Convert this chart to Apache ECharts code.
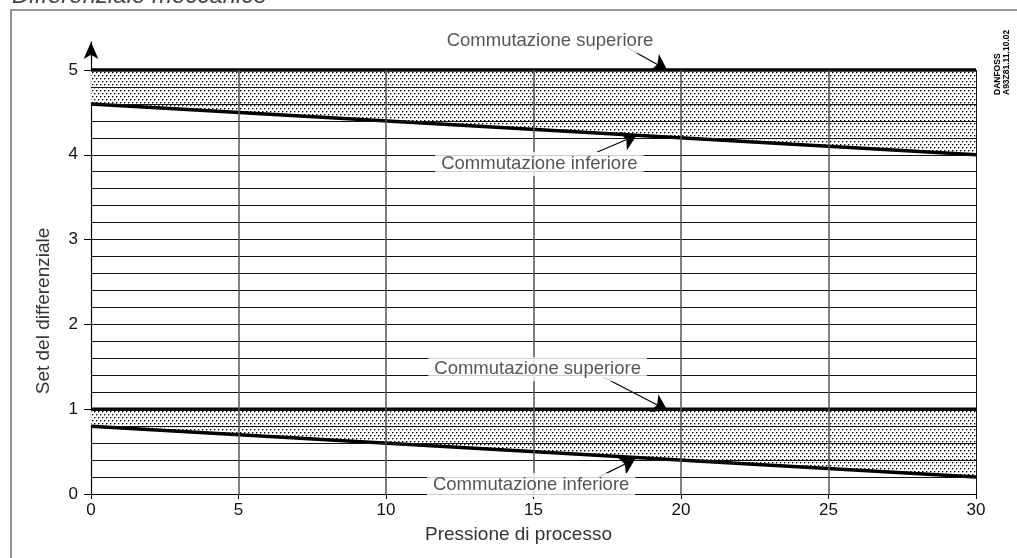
<!DOCTYPE html>
<html><head><meta charset="utf-8">
<script src="https://cdn.jsdelivr.net/npm/echarts@6/dist/echarts.min.js"></script>
<style>html,body{margin:0;padding:0;background:#fff}#c{width:1017px;height:558px}</style>
</head><body><div id="c"></div>
<script>
// ---- data ----
const pressure = [0, 30];                 // Pressione di processo
const upperSwitchHigh = [5, 5];           // Commutazione superiore (banda alta)
const upperSwitchLow = [4.6, 4.0];        // Commutazione inferiore (banda alta)
const lowerSwitchHigh = [1, 1];           // Commutazione superiore (banda bassa)
const lowerSwitchLow = [0.8, 0.2];        // Commutazione inferiore (banda bassa)
const xTicks = [0, 5, 10, 15, 20, 25, 30];
const yTicks = [0, 1, 2, 3, 4, 5];
const hGridValues = [0.2,0.4,0.6,0.8,1.0,1.2,1.4,1.6,1.8,2.0,2.2,2.4,2.6,2.8,3.0,3.2,3.4,3.6,3.8,4.0,4.2,4.4,4.6,4.8,5.0];
const vGridValues = [5, 10, 15, 20, 25, 30];
const annotationTexts = ['Commutazione superiore', 'Commutazione inferiore', 'Commutazione superiore', 'Commutazione inferiore'];
const annotationAt = [[15.56, 5.34], [15.2, 3.89], [15.14, 1.47], [14.92, 0.106]];
const arrowFrom = [[18.2, 5.26], [17.15, 4.03], [17.36, 1.38], [17.15, 0.19]];
const arrowTo = [[19.53, 5.0], [18.5, 4.23], [19.53, 0.99], [18.44, 0.41]];
const xName = 'Pressione di processo';
const yName = 'Set del differenziale';
const titleText = 'Differenziale meccanico';
const codeText = 'DANFOSS\nA93Z81.11.10.02';

// ---- dot pattern ----
const pc = document.createElement('canvas');
pc.width = 4; pc.height = 6;
const pctx = pc.getContext('2d');
pctx.fillStyle = '#fff'; pctx.fillRect(0,0,4,6);
pctx.fillStyle = '#999';
pctx.fillRect(1,0,1,1); pctx.fillRect(0,1,1,1); pctx.fillRect(3,3,1,1); pctx.fillRect(2,4,1,1);
pctx.fillStyle = '#000';
pctx.fillRect(0,0,1,1); pctx.fillRect(2,3,1,1);

const zip = (xs, ys) => xs.map((x, i) => [x, ys[i]]);
const bands = [[upperSwitchHigh, upperSwitchLow], [lowerSwitchHigh, lowerSwitchLow]];

const chart = echarts.init(document.getElementById('c'), null, {renderer: 'canvas'});
const FONT = 'Liberation Sans';

const series = [];
// bands (filled between high and low switching lines)
series.push({type: 'custom', coordinateSystem: 'cartesian2d', silent: true, z: 1,
  data: bands.map((b, i) => [pressure[0], b[0][0], i]),
  renderItem: function (params, api) {
    const b = bands[params.dataIndex];
    const hi = b[0], lo = b[1];
    const pts = [];
    for (let i = 0; i < pressure.length; i++) pts.push(api.coord([pressure[i], hi[i]]));
    for (let i = pressure.length - 1; i >= 0; i--) pts.push(api.coord([pressure[i], lo[i]]));
    return {type: 'polygon', shape: {points: pts}, style: {fill: {image: pc, repeat: 'repeat'}, stroke: null}};
  }});
// grid lines
const gridMark = [];
hGridValues.forEach(v => gridMark.push([{coord: [pressure[0], v], lineStyle: {color: '#111', width: 1, type: 'solid'}}, {coord: [pressure[1], v]}]));
vGridValues.forEach(v => gridMark.push([{coord: [v, 0], lineStyle: {color: v === 30 ? '#111' : '#555', width: v === 30 ? 1 : 1.5, type: 'solid'}}, {coord: [v, 5]}]));
series.push({type: 'line', data: [], silent: true, z: 2,
  markLine: {silent: true, symbol: ['none', 'none'], label: {show: false}, animation: false,
    lineStyle: {type: 'solid'}, data: gridMark}});
// boundary lines
[upperSwitchHigh, upperSwitchLow, lowerSwitchHigh, lowerSwitchLow].forEach(arr => {
  series.push({type: 'line', data: zip(pressure, arr), symbol: 'none', silent: true, z: 3,
    lineStyle: {color: '#000', width: 3.5}});
});
// arrows
series.push({type: 'lines', coordinateSystem: 'cartesian2d', silent: true, z: 4,
  symbol: ['none', 'arrow'], symbolSize: 15,
  lineStyle: {color: '#000', width: 1.2, opacity: 1},
  data: arrowFrom.map((f, i) => ({coords: [f, arrowTo[i]]}))});
// annotation labels
series.push({type: 'scatter', silent: true, z: 5, clip: false, symbolSize: 1, itemStyle: {color: 'rgba(0,0,0,0)'},
  data: annotationAt.map((p, i) => [p[0], p[1], annotationTexts[i]]),
  label: {show: true, position: 'inside', formatter: p => p.value[2], color: '#2a2a2a',
    fontFamily: FONT, fontSize: 18.5, backgroundColor: '#fff', padding: [3, 6, 2, 6]}});

chart.setOption({
  animation: false,
  backgroundColor: '#fff',
  grid: {left: 91, right: 41, top: 42, bottom: 64},
  xAxis: {type: 'value', min: 0, max: 30, interval: 5,
    name: xName, nameLocation: 'middle', nameGap: 31,
    nameTextStyle: {fontFamily: FONT, fontSize: 19, color: '#333', padding: [0, 30, 0, 0]},
    axisLine: {show: true, lineStyle: {color: '#000', width: 1}},
    axisTick: {show: true, length: 5, lineStyle: {color: '#000'}, customValues: xTicks},
    axisLabel: {fontFamily: FONT, fontSize: 17, color: '#111', margin: 8, customValues: xTicks},
    splitLine: {show: false}},
  yAxis: {type: 'value', min: 0, max: 5.33,
    name: yName, nameLocation: 'middle', nameGap: 38,
    nameTextStyle: {fontFamily: FONT, fontSize: 19, color: '#333', padding: [0, 86, 0, 0]},
    axisLine: {show: true, symbol: ['none', 'arrow'], symbolSize: [11, 17], lineStyle: {color: '#000', width: 1.2}},
    axisTick: {show: true, length: 7, lineStyle: {color: '#000'}, customValues: yTicks},
    axisLabel: {fontFamily: FONT, fontSize: 17, color: '#111', margin: 13, customValues: yTicks},
    splitLine: {show: false}},
  graphic: [
    {type: 'rect', shape: {x: 11, y: 10, width: 1030, height: 600}, silent: true,
      style: {fill: 'none', stroke: '#777', lineWidth: 1.6}},
    {type: 'text', x: 12, y: 8, silent: true,
      style: {text: titleText, font: 'italic 24px "Liberation Sans"', fill: '#444', textVerticalAlign: 'bottom'}},
    {type: 'text', x: 993, y: 95, rotation: Math.PI / 2, silent: true,
      style: {text: codeText, font: 'bold 8.5px "Liberation Sans"', fill: '#000', lineHeight: 9,
        textAlign: 'left', textVerticalAlign: 'top'}}
  ],
  series: series
});
</script></body></html>
